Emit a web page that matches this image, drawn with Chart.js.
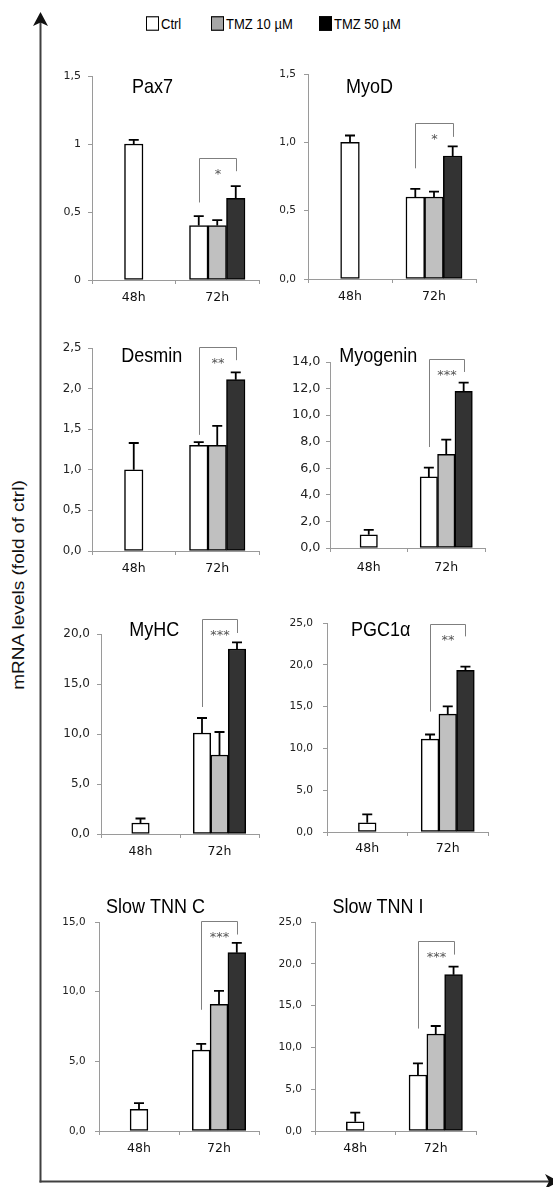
<!DOCTYPE html>
<html>
<head>
<meta charset="utf-8">
<script src="https://cdn.jsdelivr.net/npm/chart.js@4.4.1/dist/chart.umd.min.js"></script>
<style>
    html, body { margin: 0; padding: 0; background: #fff; }
    #page { position: relative; width: 553px; height: 1187px; overflow: hidden; }
    #page canvas { position: absolute; }
    #axes { position: absolute; left: 0; top: 0; }
    .legend { position: absolute; top: 16px; display: flex; align-items: center; font: 13px "Liberation Sans", Arial, sans-serif; color: #000; transform: scaleY(1.12); transform-origin: left center; white-space: nowrap; }
    .legend .box { display: inline-block; width: 11px; height: 11px; border: 1px solid #000; margin-right: 2px; }
    #ylabel { position: absolute; left: 19px; top: 585px; transform: translate(-50%, -50%) rotate(-90deg) scaleX(1.12); white-space: nowrap; font: 17px "Liberation Sans", Arial, sans-serif; color: #111; }
</style>
</head>
<body>
<div id="page">
    <svg id="axes" width="553" height="1187">
        <line x1="40.5" y1="20" x2="40.5" y2="1182.5" stroke="#404040" stroke-width="2"/>
        <polygon points="40.5,12 33,26 40.5,22.5 48,26" fill="#111"/>
        <line x1="39.5" y1="1181.5" x2="550" y2="1181.5" stroke="#404040" stroke-width="2"/>
        <polygon points="559,1181.5 545,1174 549,1181.5 545,1189" fill="#111"/>
    </svg>
    <div class="legend" style="left:146px"><span class="box" style="background:#fff"></span>Ctrl</div>
    <div class="legend" style="left:211px"><span class="box" style="background:#a6a6a6"></span>TMZ 10 µM</div>
    <div class="legend" style="left:319px"><span class="box" style="background:#000"></span>TMZ 50 µM</div>
    <div id="ylabel">mRNA levels (fold of ctrl)</div>
</div>
<script>
const timepoints = ['48h', '72h'];
const seriesNames = ['Ctrl', 'TMZ 10 µM', 'TMZ 50 µM'];

// means per series [Ctrl, TMZ 10, TMZ 50], error = upper SD, bracket = [top, left leg end, right leg end]
const pax7Means = [[1.0, 0.4], [null, 0.4], [null, 0.6]];
const pax7Errors = [[0.03, 0.07], [null, 0.04], [null, 0.09]];
const pax7Ticks = ['0', '0,5', '1', '1,5'];
const pax7Bracket = [0.9, 0.57, 0.8];

const myodMeans = [[1.0, 0.6], [null, 0.6], [null, 0.9]];
const myodErrors = [[0.05, 0.06], [null, 0.04], [null, 0.07]];
const myodTicks = ['0,0', '0,5', '1,0', '1,5'];
const myodBracket = [1.14, 0.81, 1.04];

const desminMeans = [[1.0, 1.3], [null, 1.3], [null, 2.11]];
const desminErrors = [[0.33, 0.04], [null, 0.24], [null, 0.09]];
const desminTicks = ['0,0', '0,5', '1,0', '1,5', '2,0', '2,5'];
const desminBracket = [2.51, 1.43, 2.35];

const myogeninMeans = [[1.0, 5.35], [null, 7.05], [null, 11.8]];
const myogeninErrors = [[0.37, 0.7], [null, 1.1], [null, 0.65]];
const myogeninTicks = ['0,0', '2,0', '4,0', '6,0', '8,0', '10,0', '12,0', '14,0'];
const myogeninBracket = [14.25, 7.6, 13.25];

const myhcMeans = [[1.1, 10.1], [null, 7.9], [null, 18.5]];
const myhcErrors = [[0.45, 1.5], [null, 2.3], [null, 0.67]];
const myhcTicks = ['0,0', '5,0', '10,0', '15,0', '20,0'];
const myhcBracket = [21.5, 12.7, 20.1];

const pgcMeans = [[1.1, 11.1], [null, 14.1], [null, 19.35]];
const pgcErrors = [[1.0, 0.56], [null, 0.92], [null, 0.43]];
const pgcTicks = ['0,0', '5,0', '10,0', '15,0', '20,0', '25,0'];
const pgcBracket = [24.9, 14.4, 23.4];

const tnncMeans = [[1.55, 5.8], [null, 9.1], [null, 12.8]];
const tnncErrors = [[0.45, 0.46], [null, 0.95], [null, 0.7]];
const tnncTicks = ['0,0', '5,0', '10,0', '15,0'];
const tnncBracket = [15.1, 8.7, 14.1];

const tnniMeans = [[1.1, 6.7], [null, 11.6], [null, 18.7]];
const tnniErrors = [[1.1, 1.4], [null, 0.96], [null, 0.96]];
const tnniTicks = ['0,0', '5,0', '10,0', '15,0', '20,0', '25,0'];
const tnniBracket = [22.7, 12.25, 21.1];

const BAR_FILLS = ['#ffffff', '#c0c0c0', '#333333'];
const AXIS_GREY = '#9a9a9a';
const Y_W = 46;
const X_H = 30;
const PAD_T = 34;
const PAD_R = 8;
const CAP = 10;
const STAR_DROP = 19;

// x0/x1 = axis ends, y0 = top tick, y1 = zero line (page pixels)
const PANELS = [
    { title: 'Pax7', means: pax7Means, errors: pax7Errors, ticks: pax7Ticks, bracket: pax7Bracket, stars: '*',
        x0: 92, x1: 259, y0: 76, y1: 280, bar: 18.5, tickSize: 11, tickGap: 11, labelPad: 6, titleDx: 60.5, titleDy: 17 },
    { title: 'MyoD', means: myodMeans, errors: myodErrors, ticks: myodTicks, bracket: myodBracket, stars: '*',
        x0: 308, x1: 476, y0: 74, y1: 279, bar: 18.7, tickSize: 10.5, tickGap: 12, labelPad: 6, titleDx: 61.5, titleDy: 19 },
    { title: 'Desmin', means: desminMeans, errors: desminErrors, ticks: desminTicks, bracket: desminBracket, stars: '**',
        x0: 92, x1: 259, y0: 348, y1: 551, bar: 18.5, tickSize: 11.8, tickGap: 10.5, labelPad: 6, titleDx: 59.7, titleDy: 13.5 },
    { title: 'Myogenin', means: myogeninMeans, errors: myogeninErrors, ticks: myogeninTicks, bracket: myogeninBracket, stars: '***',
        x0: 330, x1: 485, y0: 362, y1: 548, bar: 17.4, tickSize: 12.8, tickGap: 9.5, labelPad: 8, titleDx: 48.3, titleDy: 0 },
    { title: 'MyHC', means: myhcMeans, errors: myhcErrors, ticks: myhcTicks, bracket: myhcBracket, stars: '***',
        x0: 101, x1: 259, y0: 634, y1: 834, bar: 17.5, tickSize: 12, tickGap: 11, labelPad: 6, titleDx: 53.2, titleDy: 2 },
    { title: 'PGC1α', means: pgcMeans, errors: pgcErrors, ticks: pgcTicks, bracket: pgcBracket, stars: '**',
        x0: 327, x1: 488, y0: 623, y1: 832, bar: 17.7, tickSize: 10.6, tickGap: 14, labelPad: 5, titleDx: 53.7, titleDy: 12.7 },
    { title: 'Slow TNN C', means: tnncMeans, errors: tnncErrors, ticks: tnncTicks, bracket: tnncBracket, stars: '***',
        x0: 99, x1: 259, y0: 922, y1: 1131, bar: 17.8, tickSize: 10.4, tickGap: 13.5, labelPad: 6, titleDx: 56.4, titleDy: -9.3 },
    { title: 'Slow TNN I', means: tnniMeans, errors: tnniErrors, ticks: tnniTicks, bracket: tnniBracket, stars: '***',
        x0: 315, x1: 476, y0: 922, y1: 1131, bar: 17.8, tickSize: 10.6, tickGap: 13, labelPad: 6, titleDx: 63, titleDy: -9 },
];

const panelDecor = {
    id: 'panelDecor',
    afterDatasetsDraw(chart, args, opts) {
        const { ctx, chartArea } = chart;
        const y = chart.scales.y;

        ctx.save();

        // error bars, upper half only
        ctx.strokeStyle = '#000';
        ctx.lineWidth = 1.8;
        opts.errors.forEach((errs, di) => {
            const meta = chart.getDatasetMeta(di);
            errs.forEach((err, i) => {
                const value = chart.data.datasets[di].data[i];
                if (err == null || value == null) {
                    return;
                }
                const bar = meta.data[i];
                const top = y.getPixelForValue(value + err);
                ctx.beginPath();
                ctx.moveTo(bar.x, bar.y);
                ctx.lineTo(bar.x, top);
                ctx.moveTo(bar.x - CAP / 2, top);
                ctx.lineTo(bar.x + CAP / 2, top);
                ctx.stroke();
            });
        });

        // significance bracket between Ctrl and TMZ 50 at 72h
        const [topValue, leftValue, rightValue] = opts.bracket;
        const xl = Math.round(chart.getDatasetMeta(0).data[1].x) + 0.5;
        const xr = Math.round(chart.getDatasetMeta(2).data[1].x) + 0.5;
        const yt = Math.round(y.getPixelForValue(topValue)) + 0.5;
        ctx.strokeStyle = '#7f7f7f';
        ctx.lineWidth = 1;
        ctx.beginPath();
        ctx.moveTo(xl, y.getPixelForValue(leftValue));
        ctx.lineTo(xl, yt);
        ctx.lineTo(xr, yt);
        ctx.lineTo(xr, y.getPixelForValue(rightValue));
        ctx.stroke();

        ctx.fillStyle = '#555';
        ctx.font = '13px "DejaVu Sans"';
        ctx.textAlign = 'center';
        ctx.textBaseline = 'alphabetic';
        ctx.fillText(opts.stars, (xl + xr) / 2, yt + STAR_DROP);

        // panel title
        ctx.fillStyle = '#000';
        ctx.font = '18px "Liberation Sans", Arial, sans-serif';
        ctx.translate(chartArea.left + opts.titleDx, chartArea.top + opts.titleDy);
        ctx.scale(1, 1.1);
        ctx.fillText(opts.title, 0, 0);

        ctx.restore();
    },
};

function buildPanel(p) {
    const canvas = document.createElement('canvas');
    canvas.width = p.x1 - p.x0 + Y_W + PAD_R;
    canvas.height = p.y1 - p.y0 + PAD_T + X_H;
    canvas.style.left = (p.x0 - Y_W) + 'px';
    canvas.style.top = (p.y0 - PAD_T) + 'px';
    document.getElementById('page').appendChild(canvas);

    const tickValues = p.ticks.map((t) => parseFloat(t.replace(',', '.')));

    new Chart(canvas.getContext('2d'), {
        type: 'bar',
        data: {
            labels: timepoints,
            datasets: p.means.map((values, i) => ({
                label: seriesNames[i],
                data: values,
                backgroundColor: BAR_FILLS[i],
                borderColor: '#000',
                borderWidth: 1.5,
                borderSkipped: false,
                barThickness: p.bar,
                skipNull: true,
            })),
        },
        options: {
            responsive: false,
            animation: false,
            devicePixelRatio: 1,
            layout: { padding: { top: PAD_T, right: PAD_R, left: 0, bottom: 0 } },
            plugins: {
                legend: { display: false },
                tooltip: { enabled: false },
                panelDecor: {
                    errors: p.errors,
                    bracket: p.bracket,
                    stars: p.stars,
                    title: p.title,
                    titleDx: p.titleDx,
                    titleDy: p.titleDy,
                },
            },
            scales: {
                x: {
                    offset: true,
                    grid: { offset: true, drawOnChartArea: false, tickLength: 4, color: AXIS_GREY },
                    border: { color: AXIS_GREY, width: 1 },
                    ticks: { padding: p.labelPad, color: '#111', font: { family: 'DejaVu Sans', size: 12.5 } },
                    afterFit(scale) { scale.height = X_H; },
                },
                y: {
                    min: 0,
                    max: tickValues[tickValues.length - 1],
                    grid: { drawOnChartArea: false, tickLength: 4, color: AXIS_GREY },
                    border: { color: AXIS_GREY, width: 1 },
                    ticks: {
                        stepSize: tickValues[1] - tickValues[0],
                        padding: p.tickGap - 4,
                        color: '#222',
                        font: { family: 'DejaVu Sans', size: p.tickSize },
                        callback: (value, index) => p.ticks[index],
                    },
                    afterFit(scale) { scale.width = Y_W; },
                },
            },
        },
        plugins: [panelDecor],
    });
}

PANELS.forEach(buildPanel);
</script>
</body>
</html>
